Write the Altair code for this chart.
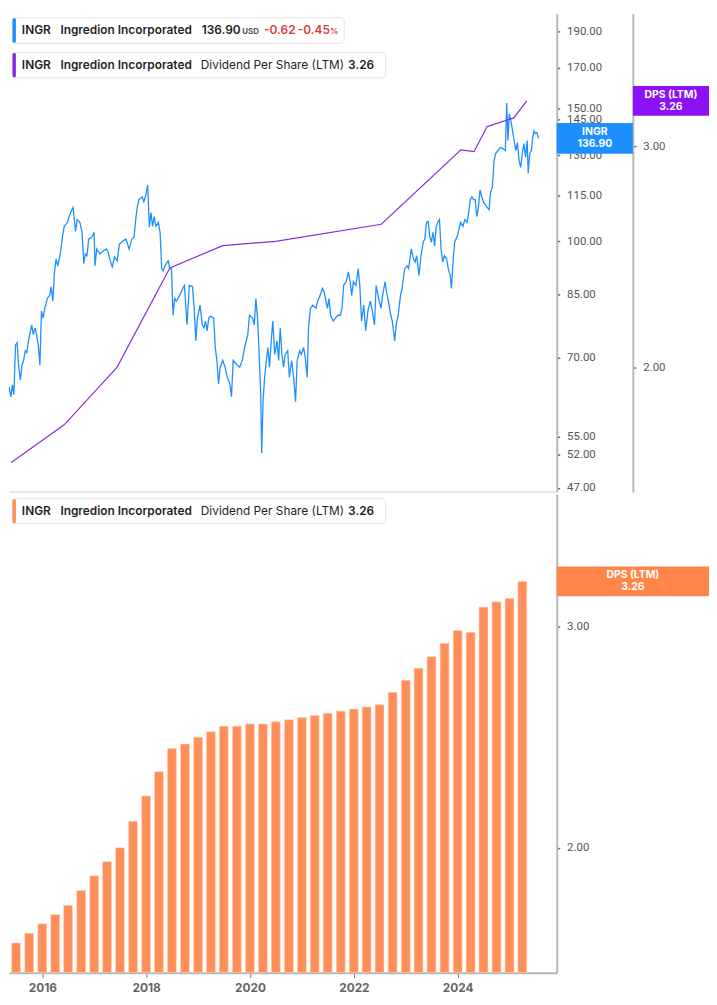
import altair as alt
import pandas as pd

# ---------------- data ----------------
price_t = [2015.453, 2015.489, 2015.517, 2015.545, 2015.576, 2015.606, 2015.637, 2015.668, 2015.698, 2015.729,
           2015.760, 2015.790, 2015.821, 2015.882, 2015.913, 2015.945, 2015.974, 2016.006, 2016.037, 2016.066,
           2016.098, 2016.129, 2016.177, 2016.221, 2016.251, 2016.282, 2016.313, 2016.343, 2016.374, 2016.406,
           2016.435, 2016.466, 2016.498, 2016.559, 2016.590, 2016.619, 2016.664, 2016.712, 2016.743, 2016.793,
           2016.835, 2016.866, 2016.896, 2016.927, 2016.959, 2017.019, 2017.062, 2017.080, 2017.112, 2017.172,
           2017.235, 2017.296, 2017.327, 2017.357, 2017.406, 2017.449, 2017.499, 2017.541, 2017.604, 2017.665,
           2017.725, 2017.775, 2017.818, 2017.849, 2017.880, 2017.909, 2017.972, 2018.002, 2018.033, 2018.076,
           2018.107, 2018.138, 2018.168, 2018.199, 2018.230, 2018.278, 2018.310, 2018.341, 2018.370, 2018.402,
           2018.463, 2018.494, 2018.525, 2018.555, 2018.586, 2018.617, 2018.678, 2018.739, 2018.770, 2018.820,
           2018.863, 2018.923, 2018.955, 2018.986, 2019.016, 2019.065, 2019.108, 2019.139, 2019.170, 2019.200,
           2019.231, 2019.263, 2019.323, 2019.355, 2019.384, 2019.416, 2019.447, 2019.495, 2019.539, 2019.582,
           2019.631, 2019.661, 2019.692, 2019.753, 2019.816, 2019.864, 2019.908, 2019.969, 2020.000, 2020.061,
           2020.092, 2020.122, 2020.153, 2020.184, 2020.214, 2020.232, 2020.258, 2020.288, 2020.319, 2020.350,
           2020.380, 2020.417, 2020.442, 2020.479, 2020.522, 2020.553, 2020.582, 2020.614, 2020.645, 2020.675,
           2020.724, 2020.755, 2020.798, 2020.841, 2020.872, 2020.903, 2020.951, 2020.982, 2021.025, 2021.056,
           2021.093, 2021.117, 2021.154, 2021.198, 2021.259, 2021.290, 2021.338, 2021.382, 2021.412, 2021.475,
           2021.504, 2021.535, 2021.585, 2021.628, 2021.670, 2021.720, 2021.751, 2021.781, 2021.830, 2021.873,
           2021.904, 2021.935, 2021.965, 2022.015, 2022.057, 2022.088, 2022.120, 2022.162, 2022.199, 2022.241,
           2022.286, 2022.323, 2022.365, 2022.396, 2022.444, 2022.488, 2022.518, 2022.568, 2022.592, 2022.628,
           2022.673, 2022.702, 2022.746, 2022.776, 2022.813, 2022.857, 2022.887, 2022.936, 2022.979, 2023.010,
           2023.060, 2023.102, 2023.134, 2023.163, 2023.207, 2023.244, 2023.287, 2023.318, 2023.347, 2023.379,
           2023.410, 2023.440, 2023.471, 2023.502, 2023.532, 2023.563, 2023.594, 2023.624, 2023.655, 2023.687,
           2023.729, 2023.760, 2023.797, 2023.821, 2023.858, 2023.882, 2023.931, 2023.963, 2023.993, 2024.037,
           2024.074, 2024.116, 2024.147, 2024.177, 2024.208, 2024.240, 2024.269, 2024.300, 2024.332, 2024.361,
           2024.393, 2024.435, 2024.485, 2024.534, 2024.558, 2024.595, 2024.627, 2024.656, 2024.700, 2024.743,
           2024.793, 2024.840, 2024.866, 2024.890, 2024.914, 2024.946, 2024.977, 2025.006, 2025.038, 2025.069,
           2025.099, 2025.130, 2025.161, 2025.190, 2025.222, 2025.253, 2025.272, 2025.301, 2025.333, 2025.357,
           2025.382, 2025.406, 2025.438, 2025.467]

price_close = [64.0, 62.1, 64.4, 62.5, 72.8, 73.3, 68.0, 65.4, 68.4, 69.4,
               71.5, 71.1, 73.7, 77.4, 75.1, 76.7, 75.1, 72.8, 68.4, 80.7,
               79.0, 81.4, 83.9, 84.7, 87.0, 83.2, 91.0, 94.7, 92.7, 94.7,
               97.6, 101.5, 104.6, 105.9, 107.8, 109.1, 110.8, 103.0, 106.8, 105.9,
               102.7, 93.3, 96.1, 95.6, 100.6, 101.2, 102.7, 92.7, 97.6, 96.1,
               97.0, 97.6, 96.7, 94.7, 92.4, 95.3, 94.1, 99.1, 100.0, 100.6,
               97.6, 100.6, 101.2, 106.8, 111.1, 113.5, 114.5, 112.8, 114.5, 118.7,
               104.3, 109.1, 104.6, 107.8, 104.6, 105.9, 102.7, 91.9, 91.3, 92.7,
               94.1, 91.9, 91.9, 79.7, 83.9, 83.2, 84.7, 86.5, 87.3, 77.4,
               87.3, 87.0, 81.4, 73.7, 79.0, 82.2, 77.4, 76.7, 78.3, 76.0,
               79.0, 79.5, 79.0, 72.2, 69.4, 64.6, 68.0, 69.4, 68.0, 65.9,
               64.6, 62.1, 69.4, 68.6, 68.0, 69.4, 72.2, 75.1, 79.7, 79.0,
               77.4, 83.9, 79.0, 70.7, 62.6, 52.3, 61.5, 65.9, 69.4, 72.2,
               68.0, 74.4, 78.3, 70.7, 73.7, 69.4, 76.7, 70.7, 68.0, 70.7,
               71.5, 65.9, 69.4, 65.4, 61.2, 69.4, 71.5, 70.7, 72.2, 70.0,
               65.9, 76.7, 81.4, 82.2, 81.4, 83.2, 84.7, 86.5, 85.7, 81.4,
               83.9, 79.7, 78.3, 79.0, 79.7, 79.7, 81.4, 87.3, 88.3, 91.0,
               88.3, 84.7, 88.3, 87.3, 91.9, 87.3, 78.3, 82.2, 76.0, 80.7,
               83.2, 80.7, 77.4, 87.3, 83.9, 81.4, 84.7, 88.3, 85.7, 83.2,
               79.7, 78.3, 73.7, 77.4, 79.7, 84.7, 86.5, 91.9, 92.7, 91.9,
               97.6, 94.7, 93.8, 95.6, 90.0, 95.6, 99.7, 100.6, 105.9, 106.2,
               101.5, 99.7, 102.7, 98.5, 104.6, 105.9, 106.8, 97.6, 93.8, 95.6,
               94.7, 91.9, 90.0, 86.5, 95.6, 99.7, 101.5, 103.7, 105.9, 104.6,
               106.8, 105.9, 109.1, 113.5, 114.5, 113.5, 113.5, 107.8, 111.1, 116.9,
               114.5, 112.4, 111.1, 110.1, 115.9, 118.0, 128.0, 130.7, 131.9, 133.1,
               132.7, 131.9, 152.5, 136.0, 147.5, 144.4, 140.1, 136.0, 131.9, 135.1,
               128.0, 125.3, 130.7, 134.7, 129.2, 136.0, 123.1, 130.7, 131.9, 137.2,
               140.1, 138.9, 139.3, 136.9]

dps_dates = ["2015-06-30", "2015-09-30", "2015-12-31", "2016-03-31", "2016-06-30", "2016-09-30",
             "2016-12-31", "2017-03-31", "2017-06-30", "2017-09-30", "2017-12-31", "2018-03-31",
             "2018-06-30", "2018-09-30", "2018-12-31", "2019-03-31", "2019-06-30", "2019-09-30",
             "2019-12-31", "2020-03-31", "2020-06-30", "2020-09-30", "2020-12-31", "2021-03-31",
             "2021-06-30", "2021-09-30", "2021-12-31", "2022-03-31", "2022-06-30", "2022-09-30",
             "2022-12-31", "2023-03-31", "2023-06-30", "2023-09-30", "2023-12-31", "2024-03-31",
             "2024-06-30", "2024-09-30", "2024-12-31", "2025-03-31"]
dps_values = [1.68, 1.71, 1.74, 1.77, 1.80, 1.85, 1.90, 1.95, 2.00, 2.10,
              2.20, 2.30, 2.40, 2.42, 2.45, 2.475, 2.50, 2.50, 2.51, 2.51,
              2.52, 2.53, 2.54, 2.55, 2.56, 2.57, 2.58, 2.59, 2.60, 2.66,
              2.72, 2.78, 2.84, 2.91, 2.98, 2.97, 3.11, 3.14, 3.16, 3.26]
dps_line_dates = ["2015-06-30", "2016-06-30", "2017-06-30", "2018-06-30", "2019-06-30",
                  "2020-06-30", "2022-06-30", "2023-12-31", "2024-03-31", "2024-06-30",
                  "2024-12-31", "2025-03-31"]

price_ticks = [190, 170, 150, 145, 130, 115, 100, 85, 70, 55, 52, 47]
dps_ticks = [2.0, 3.0]
year_ticks = [2016, 2018, 2020, 2022, 2024]
price_domain = [46.4, 200.5]
dps_domain = [1.591, 3.826]

ticker = "INGR"
company = "Ingredion Incorporated"
metric = "Dividend Per Share (LTM)"
last_price = "136.90"
chg = "-0.62"
chg_pct = "-0.45"

# ---------------- helpers ----------------
def dec_year(s):
    d = pd.Timestamp(s)
    n = 366 if d.is_leap_year else 365
    return d.year + (d.dayofyear - 0.5) / n

price_df = pd.DataFrame({"t": price_t, "p": price_close})
dps_df = pd.DataFrame({"t": [dec_year(s) for s in dps_dates], "v": dps_values})
dps_df["base"] = dps_domain[0]
dps_map = dict(zip(dps_dates, dps_values))
dps_line_df = pd.DataFrame({"t": [dec_year(s) for s in dps_line_dates],
                            "v": [dps_map[s] for s in dps_line_dates]})
last_p = price_df.tail(1)
last_d = dps_df.tail(1)
ONE = pd.DataFrame({"a": [0]})

W = 554
H = 484
BOX = 77
BLUE = "#1E8FFF"
PURPLE = "#8A2BE2"
PURPLE_BOX = "#8B12F5"
ORANGE = "#FF8F59"
ORANGE_BOX = "#FF8549"
RED = "#DD3B3B"
TXT = "#1f1f1f"

xscale = alt.Scale(domain=[2015.4525, 2025.812], nice=False, zero=False)
pscale = alt.Scale(type="log", domain=price_domain, nice=False)
dscale = alt.Scale(type="log", domain=dps_domain, nice=False)

axis_common = dict(title=None, grid=False, labelFont="Roboto", labelFontSize=11.5, labelColor="#555",
                   tickSize=3, tickColor="#666", tickWidth=1.5, domainColor="#b8b8b8", domainWidth=2,
                   labelPadding=7, labelOverlap=False, format=".2f")


def label(s, x, y, size=12, weight=600, color=TXT, font="Inter"):
    return alt.Chart(ONE).mark_text(align="left", baseline="middle", font=font, fontSize=size,
                                    fontWeight=weight, color=color).encode(
        x=alt.value(x), y=alt.value(y), text=alt.value(s))


def legend_box(x2, y1, y2, accent):
    bg = alt.Chart(ONE).mark_rect(fill="white", stroke="#e3e3e3", strokeWidth=1, cornerRadius=3).encode(
        x=alt.value(3.5), x2=alt.value(x2), y=alt.value(y1), y2=alt.value(y2))
    bar = alt.Chart(ONE).mark_rect(fill=accent, cornerRadius=1.5).encode(
        x=alt.value(3.5), x2=alt.value(7), y=alt.value(y1 + 0.5), y2=alt.value(y2 - 0.5))
    return [bg, bar]


def rect_path(w, h):
    hh = h / w
    return f"M-1,-{hh:.4f}L1,-{hh:.4f}L1,{hh:.4f}L-1,{hh:.4f}Z"


def value_box(df, field, scale, xc, w, h, color, line1):
    sym = alt.Chart(df).mark_point(shape=rect_path(w, h), size=w * w, filled=True, color=color,
                                   opacity=1, strokeOpacity=0).encode(
        x=alt.value(xc), y=alt.Y(f"{field}:Q", scale=scale, axis=None))
    t1 = alt.Chart(df).mark_text(color="white", font="Inter", fontSize=10.5, fontWeight="bold",
                                 align="center", baseline="middle", dy=-6).encode(
        x=alt.value(xc), y=alt.Y(f"{field}:Q", scale=scale, axis=None), text=alt.value(line1))
    t2 = alt.Chart(df).mark_text(color="white", font="Inter", fontSize=10.5, fontWeight="bold",
                                 align="center", baseline="middle", dy=6).encode(
        x=alt.value(xc), y=alt.Y(f"{field}:Q", scale=scale, axis=None),
        text=alt.Text(f"{field}:Q", format=".2f"))
    return [sym, t1, t2]


# ---------------- top panel ----------------
sep = alt.Chart(ONE).mark_rule(color="#e4e4e4", strokeWidth=2).encode(
    x=alt.value(0), x2=alt.value(W), y=alt.value(H))

price_line = alt.Chart(price_df).mark_line(color=BLUE, strokeWidth=1.3, clip=True).encode(
    x=alt.X("t:Q", scale=xscale, axis=None),
    y=alt.Y("p:Q", scale=pscale, axis=alt.Axis(orient="right", values=price_ticks, **axis_common)))

dps_line = alt.Chart(dps_line_df).mark_line(color=PURPLE, strokeWidth=1.2, clip=True).encode(
    x=alt.X("t:Q", scale=xscale, axis=None),
    y=alt.Y("v:Q", scale=dscale, axis=alt.Axis(orient="right", offset=BOX, values=dps_ticks, **axis_common)))

top_layers = [sep, price_line, dps_line]
top_layers += value_box(last_p, "p", pscale, W + BOX / 2, BOX, 31, BLUE, ticker)
top_layers += value_box(last_d, "v", dscale, W + BOX + BOX / 2, BOX, 30, PURPLE_BOX, "DPS (LTM)")

top_layers += legend_box(339, 4.3, 30, BLUE)
top_layers += [
    label(ticker, 13, 17),
    label(company, 52, 17),
    label(last_price, 195, 17),
    label("USD", 236, 19, size=8, weight="bold", color="#555"),
    label(chg, 258, 17, color=RED),
    label(chg_pct, 292, 17, color=RED),
    label("%", 325, 19, size=8, weight="bold", color=RED),
]
top_layers += legend_box(381, 39.3, 65, PURPLE)
top_layers += [
    label(ticker, 13, 52),
    label(company, 52, 52),
    label(metric, 194, 52, weight=400),
    label("3.26", 343, 52),
]

top = alt.layer(*top_layers).resolve_scale(y="independent").properties(width=W, height=H)

# ---------------- bottom panel ----------------
bars = alt.Chart(dps_df).mark_bar(width=9, color=ORANGE, stroke="#ffd3be", strokeWidth=0.6, clip=True).encode(
    x=alt.X("t:Q", scale=xscale,
            axis=alt.Axis(values=year_ticks, format="d", title=None, grid=False, labelFont="Inter",
                          labelFontSize=12, labelFontWeight="bold", labelColor="#666", tickSize=5,
                          tickColor="#777", tickWidth=1, domainColor="#b8b8b8", domainWidth=2,
                          labelPadding=5)),
    y=alt.Y("v:Q", scale=dscale, axis=alt.Axis(orient="right", values=dps_ticks, **axis_common)),
    y2=alt.Y2("base:Q"))

bottom_layers = [bars]
bottom_layers += value_box(last_d, "v", dscale, W + BOX, 2 * BOX, 30, ORANGE_BOX, "DPS (LTM)")
bottom_layers += legend_box(381, 4.7, 30, ORANGE)
bottom_layers += [
    label(ticker, 13, 17),
    label(company, 52, 17),
    label(metric, 194, 17, weight=400),
    label("3.26", 343, 17),
]
bottom = alt.layer(*bottom_layers).resolve_scale(y="independent").properties(width=W, height=H)

chart = alt.vconcat(top, bottom, spacing=0).properties(padding=0).configure_view(strokeWidth=0)

chart.save("out.html", embed_options={"renderer": "svg", "actions": False})
